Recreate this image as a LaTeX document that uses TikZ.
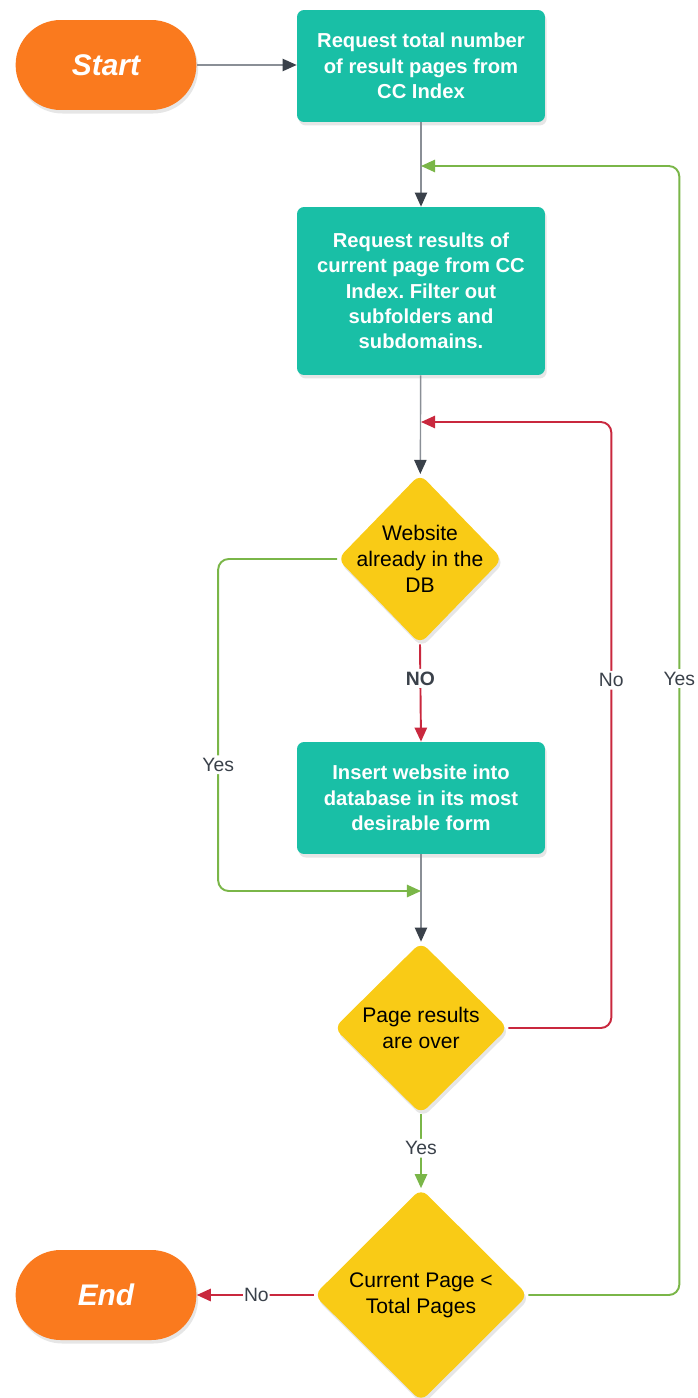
\documentclass[tikz,border=0pt]{standalone}
\usepackage{fontspec}
\setmainfont{Liberation Sans}
\usepackage{tikz}
\usepackage{xcolor}
\usetikzlibrary{arrows.meta, positioning, shapes.geometric, shapes.misc, shadows}
\frenchspacing

\definecolor{termorange}{HTML}{FA7A1E}
\definecolor{procteal}{HTML}{19BFA6}
\definecolor{decyellow}{HTML}{F9CB16}
\definecolor{nored}{HTML}{C9283E}
\definecolor{yesgreen}{HTML}{7AB648}
\definecolor{flowgray}{HTML}{8A8F96}
\definecolor{tipdark}{HTML}{3A414A}

\begin{document}
\begin{tikzpicture}[x=0.02cm, y=-0.02cm,
    terminal/.style={rounded rectangle, fill=termorange, text=white, minimum width=3.85cm, minimum height=1.8cm,
        font=\fontsize{17}{20}\selectfont\bfseries\itshape, drop shadow={opacity=0.2, shadow xshift=1pt, shadow yshift=-2pt}},
    process/.style={rectangle, rounded corners=4pt, fill=procteal, text=white, minimum width=4.96cm, align=center,
        font=\fontsize{11.5}{14.4}\selectfont\bfseries, drop shadow={opacity=0.2, shadow xshift=1pt, shadow yshift=-2pt}},
    decision/.style={diamond, rounded corners=5pt, fill=decyellow, inner sep=0pt, aspect=1,
        drop shadow={opacity=0.2, shadow xshift=1pt, shadow yshift=-2pt}},
    dectext/.style={align=center, text=black, font=\fontsize{12}{14.7}\selectfont},
    flow/.style={draw=flowgray, line width=0.8pt, -{Triangle[length=8pt, width=7pt, color=tipdark]}},
    noflow/.style={draw=nored, line width=1.1pt, rounded corners=6pt, -{Triangle[length=8pt, width=7pt]}},
    yesflow/.style={draw=yesgreen, line width=1.1pt, rounded corners=6pt, -{Triangle[length=8pt, width=7pt]}},
    tag/.style={fill=white, inner sep=1.5pt, text=tipdark, font=\fontsize{11}{13}\selectfont}
]
\useasboundingbox (0,0) rectangle (697,1398);

% Terminals
\node[terminal] (start) at (106,65) {Start};
\node[terminal] (end) at (106,1295) {End};

% Process boxes
\node[process, minimum height=2.24cm] (total) at (421,66) {Request total number\\of result pages from\\CC Index};
\node[process, minimum height=3.36cm] (page) at (421,291) {Request results of\\current page from CC\\Index. Filter out\\subfolders and\\subdomains.};
\node[process, minimum height=2.24cm] (insert) at (421,798) {Insert website into\\database in its most\\desirable form};

% Decisions - text kept as centre labels so the diamonds stay small
\node[decision, minimum width=3.3cm, minimum height=3.4cm,
    label={[dectext]center:Website\\already in the\\DB}] (indb) at (420,559) {};
\node[decision, minimum width=3.48cm, minimum height=3.44cm,
    label={[dectext]center:Page results\\are over}] (over) at (421,1028) {};
\node[decision, minimum width=4.28cm, minimum height=4.26cm,
    label={[dectext]center:Current Page <\\Total Pages}] (more) at (421,1295) {};

% Junction points on the main line
\coordinate (nextpage) at (421,166);
\coordinate (nextrow) at (421,422);
\coordinate (skiprow) at (421,891);

% Main line
\draw[flow] (start.east) -- (start.east -| total.west);
\draw[flow] (total) -- (page);
\draw[flow] (page) -- (indb);
\draw[flow] (insert) -- (over);

% Branches
\draw[noflow] (indb.south) -- node[tag, pos=0.35, font=\fontsize{11}{13}\selectfont\bfseries] {NO} (insert.north);
\draw[yesflow] (indb.west) -- ++(-119,0) |- node[tag, pos=0.31] {Yes} (skiprow);
\draw[noflow] (over.east) -- ++(103,0) |- node[tag, pos=0.287] {No} (nextrow);
\draw[yesflow] (over.south) -- node[tag, pos=0.46] {Yes} (more.north);
\draw[yesflow] (more.east) -- ++(151,0) |- node[tag, pos=0.273] {Yes} (nextpage);
\draw[noflow] (more.west) -- node[tag, pos=0.49, inner sep=0.5pt] {No} (end.east);

\end{tikzpicture}
\end{document}
